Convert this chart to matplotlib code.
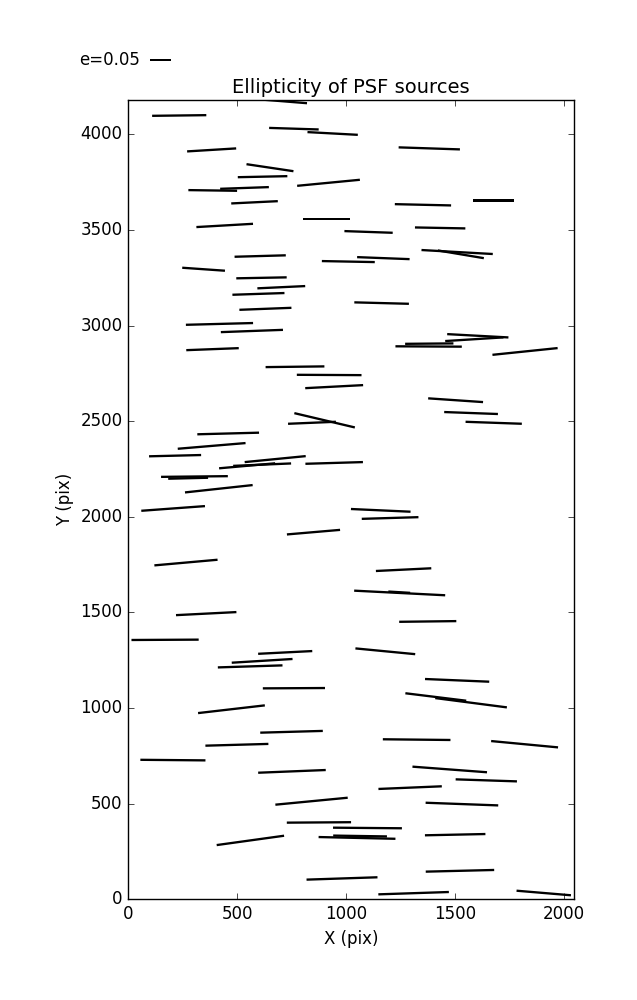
import numpy as np
import matplotlib
matplotlib.use("Agg")
import matplotlib.pyplot as plt

plt.style.use('classic')

# Source positions (pix), ellipticity and position angle (deg)
x_pix = [234, 649, 761, 939, 1383, 383, 651, 617, 388, 534,
         920, 580, 910, 443, 1104, 1354, 1679, 1433, 606, 346,
         1011, 1172, 1511, 1528, 612, 703, 598, 1164, 630, 419,
         568, 387, 766, 923, 946, 902, 844, 459, 383, 215,
         675, 946, 615, 546, 304, 275, 416, 1606, 1590, 1380,
         1383, 1823, 1504, 1575, 1679, 206, 1160, 1203, 851, 265,
         1265, 358, 169, 721, 615, 560, 761, 1247, 1245, 1376,
         1181, 1511, 1413, 1575, 474, 750, 499, 205, 752, 842,
         876, 1099, 1051, 1065, 561, 982, 1325, 1821, 1477, 1645,
         1295, 1533, 1502, 1524, 1311, 1909]
y_pix = [4099, 4179, 4030, 4005, 3927, 3919, 3826, 3779, 3707, 3720,
         3747, 3645, 3559, 3524, 3490, 3632, 3655, 3511, 3364, 3295,
         3335, 3353, 3385, 3373, 3250, 3201, 3166, 3118, 3088, 3009,
         2972, 2877, 2785, 2742, 2681, 2505, 2492, 2436, 2371, 2320,
         2302, 2282, 2273, 2267, 2211, 2202, 2147, 2947, 2929, 2891,
         2906, 2865, 2610, 2543, 2492, 2044, 2034, 1994, 1920, 1761,
         1724, 1494, 1357, 1291, 1247, 1218, 1104, 1602, 1606, 1453,
         1297, 1145, 1058, 1028, 994, 876, 808, 728, 669, 513,
         402, 373, 321, 331, 308, 109, 835, 811, 679, 622,
         584, 498, 338, 149, 32, 33]
ellip = [0.129, 0.179, 0.118, 0.120, 0.146, 0.117, 0.113, 0.118, 0.116, 0.116,
         0.150, 0.111, 0.111, 0.135, 0.115, 0.134, 0.099, 0.120, 0.122, 0.102,
         0.126, 0.125, 0.170, 0.111, 0.120, 0.114, 0.124, 0.130, 0.124, 0.160,
         0.148, 0.125, 0.140, 0.154, 0.138, 0.148, 0.114, 0.147, 0.162, 0.124,
         0.146, 0.137, 0.138, 0.134, 0.159, 0.095, 0.162, 0.146, 0.139, 0.158,
         0.115, 0.156, 0.131, 0.128, 0.134, 0.152, 0.142, 0.135, 0.127, 0.151,
         0.132, 0.144, 0.160, 0.129, 0.145, 0.154, 0.148, 0.217, 0.052, 0.136,
         0.143, 0.153, 0.146, 0.172, 0.160, 0.149, 0.150, 0.155, 0.161, 0.173,
         0.153, 0.164, 0.183, 0.128, 0.162, 0.169, 0.161, 0.160, 0.178, 0.146,
         0.151, 0.173, 0.144, 0.163, 0.168, 0.130]
theta_deg = [0.7, -4.6, -1.8, -3.1, -1.9, 3.5, -8.5, 1.2, -0.8, 2.0,
             5.5, 2.8, 0.0, 3.3, -2.0, -1.3, 0.0, -1.1, 1.6, -4.0,
             -1.1, -2.2, -3.2, -9.5, 1.1, 2.7, 1.9, -1.5, 2.2, 1.5,
             2.1, 2.2, 0.7, -0.3, 3.0, -13.3, 2.4, 1.5, 4.8, 1.4,
             5.6, 1.7, 2.4, 5.1, 0.6, 1.4, 6.2, -3.1, 3.6, -0.3,
             0.5, 5.9, -3.9, -2.1, -2.0, 4.2, -2.6, 1.7, 4.9, 5.1,
             2.8, 2.9, 0.3, 2.9, 3.5, 1.8, 0.3, -2.9, -3.4, 0.7,
             -5.5, -2.4, -7.0, -7.4, 6.6, 1.6, 1.6, -0.5, 2.3, 5.5,
             0.4, -0.5, -1.3, -0.9, 7.9, 1.9, -0.6, -5.4, -4.3, -1.9,
             2.4, -2.1, 1.2, 1.4, 1.9, -4.8]

key_e = 0.05
key_label = 'e=0.05'

x = np.array(x_pix, dtype=float)
y = np.array(y_pix, dtype=float)
e = np.array(ellip)
th = np.deg2rad(np.array(theta_deg))
u = e * np.cos(th)
v = e * np.sin(th)

fig = plt.figure(figsize=(6.37, 10.0), dpi=100, facecolor='white')
ax = fig.add_axes([0.2014, 0.1007, 0.6997, 0.7993])
ax.set_facecolor('white')

scale = key_e / 0.21  # e units per inch
Q = ax.quiver(x, y, u, v, angles='uv', scale_units='inches', scale=scale,
              pivot='middle', headwidth=0, headlength=0, headaxislength=0,
              width=0.0052, color='black')
ax.quiverkey(Q, 0.2355, 0.94, key_e, key_label, labelpos='W',
             coordinates='figure', fontproperties={'size': 12})

ax.set_xlim(0, 2048)
ax.set_ylim(0, 4180)
ax.set_xticks([0, 500, 1000, 1500, 2000])
ax.set_yticks([0, 500, 1000, 1500, 2000, 2500, 3000, 3500, 4000])
ax.set_xlabel('X (pix)', fontsize=12)
ax.set_ylabel('Y (pix)', fontsize=12)
ax.set_title('Ellipticity of PSF sources', fontsize=14)
ax.tick_params(labelsize=12)

fig.savefig('out.png', dpi=100, facecolor='white')
